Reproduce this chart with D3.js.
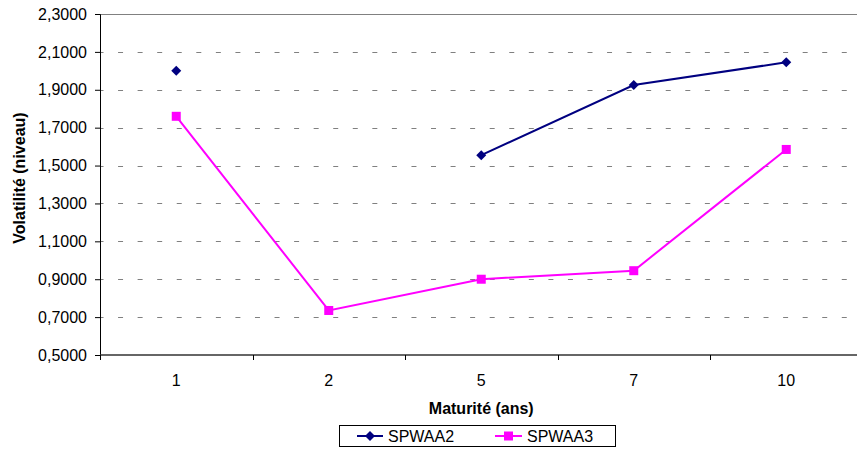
<!DOCTYPE html>
<html>
<head>
<meta charset="utf-8">
<script src="https://cdn.jsdelivr.net/npm/d3@7"></script>
<style>
  html, body { margin: 0; padding: 0; background: #fff; }
  svg { display: block; font-family: Arial, "Liberation Sans", sans-serif; }
</style>
</head>
<body>
<svg id="chart" width="857" height="451"></svg>
<script>
// Maturities (categorical x axis) and volatility levels per series
const maturities = ["1", "2", "5", "7", "10"];
const spwaa2 = [2.0, null, 1.555, 1.925, 2.045];
const spwaa3 = [1.76, 0.735, 0.9, 0.945, 1.585];
const yTicks = [0.5, 0.7, 0.9, 1.1, 1.3, 1.5, 1.7, 1.9, 2.1, 2.3];
const seriesNames = ["SPWAA2", "SPWAA3"];

const svg = d3.select("#chart");
const plotLeft = 100, plotRight = 862.5, plotTop = 14, plotBottom = 355;

const x = d3.scaleBand().domain(maturities).range([plotLeft, plotRight]);
const y = d3.scaleLinear().domain([0.5, 2.3]).range([plotBottom, plotTop]);
const fmt = v => d3.format(".4f")(v).replace(".", ",");

// Horizontal dashed gridlines
svg.append("g").selectAll("line")
  .data(yTicks.filter(v => v > 0.5 && v < 2.3))
  .join("line")
  .attr("x1", plotLeft).attr("x2", 857)
  .attr("y1", d => Math.round(y(d)) + 0.5).attr("y2", d => Math.round(y(d)) + 0.5)
  .attr("stroke", "#808080").attr("stroke-width", 1)
  .attr("stroke-dasharray", "5 14.56").attr("stroke-dashoffset", 1.5);

// Plot area top border
svg.append("line")
  .attr("x1", plotLeft).attr("x2", 857)
  .attr("y1", Math.round(y(2.3)) + 0.5).attr("y2", Math.round(y(2.3)) + 0.5)
  .attr("stroke", "#808080").attr("stroke-width", 1);

// Y axis
const yAxis = d3.axisLeft(y).tickValues(yTicks).tickFormat(fmt).tickSize(5).tickPadding(8);
const gy = svg.append("g").attr("transform", `translate(${plotLeft},0)`).call(yAxis);
gy.select(".domain").attr("stroke", "#000");
gy.selectAll(".tick line").attr("stroke", "#000");
gy.selectAll("text").attr("font-size", 16).attr("fill", "#000")
  .attr("font-family", "Arial, 'Liberation Sans', sans-serif");

// X axis with ticks on category boundaries
const gx = svg.append("g").attr("transform", `translate(0,${plotBottom})`);
gx.append("line").attr("x1", plotLeft).attr("x2", plotRight).attr("y1", 0).attr("y2", 0)
  .attr("stroke", "#333").attr("stroke-width", 1.5);
gx.selectAll("line.tk")
  .data(d3.range(maturities.length + 1))
  .join("line").attr("class", "tk")
  .attr("x1", i => Math.round(plotLeft + i * x.bandwidth()) + 0.5)
  .attr("x2", i => Math.round(plotLeft + i * x.bandwidth()) + 0.5)
  .attr("y1", 0).attr("y2", 5).attr("stroke", "#000");
gx.selectAll("text")
  .data(maturities)
  .join("text")
  .attr("x", d => x(d) + x.bandwidth() / 2)
  .attr("y", 31)
  .attr("text-anchor", "middle")
  .attr("font-size", 16).attr("fill", "#000")
  .text(d => d);

// Axis titles
svg.append("text")
  .attr("x", (plotLeft + plotRight) / 2).attr("y", 414)
  .attr("text-anchor", "middle").attr("font-size", 16).attr("font-weight", "bold")
  .text("Maturité (ans)");
svg.append("text")
  .attr("transform", "translate(25,178) rotate(-90)")
  .attr("text-anchor", "middle").attr("font-size", 16).attr("font-weight", "bold")
  .text("Volatilité (niveau)");

// Series lines and markers
const cx = d => x(d) + x.bandwidth() / 2;
const line = d3.line()
  .defined(d => d.v != null)
  .x(d => cx(d.m)).y(d => y(d.v));

const series = [
  { name: seriesNames[0], values: spwaa2, color: "#000080", marker: "diamond" },
  { name: seriesNames[1], values: spwaa3, color: "#FF00FF", marker: "square" }
];

function drawMarker(g, type, color) {
  if (type === "diamond") {
    g.append("path").attr("d", "M0,-5L5,0L0,5L-5,0Z").attr("fill", color);
  } else {
    g.append("rect").attr("x", -4.5).attr("y", -4.5).attr("width", 9).attr("height", 9).attr("fill", color);
  }
}

series.forEach(s => {
  const pts = maturities.map((m, i) => ({ m, v: s.values[i] }));
  svg.append("path").datum(pts)
    .attr("fill", "none").attr("stroke", s.color).attr("stroke-width", 2)
    .attr("d", line);
  pts.filter(p => p.v != null).forEach(p => {
    const g = svg.append("g").attr("transform", `translate(${cx(p.m)},${y(p.v)})`);
    drawMarker(g, s.marker, s.color);
  });
});

// Legend
const lg = svg.append("g");
lg.append("rect").attr("x", 339.5).attr("y", 425.5).attr("width", 276).attr("height", 21)
  .attr("fill", "#fff").attr("stroke", "#000").attr("stroke-width", 1);
const legendPos = [{ x1: 357, x2: 383, tx: 388 }, { x1: 495, x2: 522, tx: 527 }];
series.forEach((s, i) => {
  const p = legendPos[i];
  lg.append("line").attr("x1", p.x1).attr("x2", p.x2).attr("y1", 436).attr("y2", 436)
    .attr("stroke", s.color).attr("stroke-width", 2);
  const g = lg.append("g").attr("transform", `translate(${(p.x1 + p.x2) / 2},436)`);
  drawMarker(g, s.marker, s.color);
  lg.append("text").attr("x", p.tx).attr("y", 442).attr("font-size", 16).attr("fill", "#000")
    .text(s.name);
});
</script>
</body>
</html>
